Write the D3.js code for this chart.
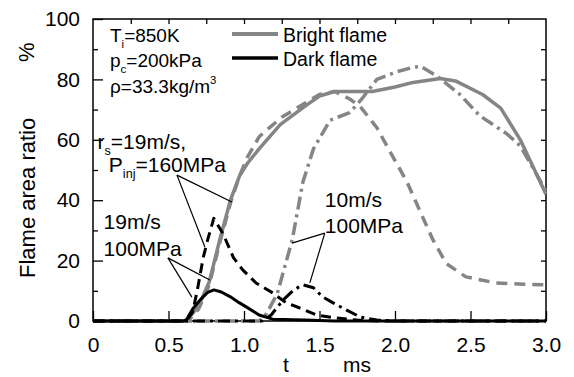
<!DOCTYPE html>
<html>
<head>
<meta charset="utf-8">
<script src="https://cdn.jsdelivr.net/npm/d3@7"></script>
<style>
  body { margin: 0; background: #fff; }
  svg { display: block; font-family: "Liberation Sans", Arial, sans-serif; }
</style>
</head>
<body>
<div id="chart"></div>
<script>
// time in ms, flame area ratio in %
const brightSolidT = [0, 0.6, 0.62, 0.7, 0.77, 0.84, 0.91, 0.97, 1.02, 1.1, 1.24, 1.4, 1.5, 1.6, 1.85, 2.0, 2.12, 2.3, 2.4, 2.58, 2.7, 2.83, 3.0];
const brightSolidV = [0, 0, 0, 5, 13, 27, 40, 48, 52, 57, 65, 71, 74.5, 76, 76, 77.5, 79, 80.3, 79.5, 75, 70.5, 60, 42];

const brightDashT = [0, 0.63, 0.7, 0.77, 0.84, 0.91, 0.97, 1.02, 1.1, 1.25, 1.4, 1.5, 1.6, 1.7, 1.77, 1.88, 1.99, 2.08, 2.16, 2.25, 2.34, 2.47, 2.67, 2.85, 3.0];
const brightDashV = [0, 0, 4, 12, 26, 39, 48, 54, 61, 67.5, 72, 75, 76, 73.5, 71, 64, 54, 46, 37, 27, 19, 14.6, 12.6, 12.2, 12];

const brightDotT = [0, 1.1, 1.15, 1.22, 1.32, 1.39, 1.46, 1.57, 1.7, 1.78, 1.88, 2.01, 2.12, 2.17, 2.28, 2.43, 2.56, 2.74, 2.83, 2.91, 3.0];
const brightDotV = [0, 0, 2.5, 9, 27, 46, 57, 66.5, 69, 73.5, 80, 82.5, 84, 84.3, 81, 75, 68, 62, 58, 51, 43];

const darkSolidT = [0, 0.6, 0.62, 0.66, 0.71, 0.76, 0.8, 0.85, 0.91, 0.97, 1.02, 1.1, 1.19, 1.4, 1.6, 3.0];
const darkSolidV = [0, 0, 0.5, 4, 7, 9.5, 10.3, 9.6, 8, 6, 4.5, 2, 0.6, 0.3, 0, 0];

const darkDashT = [0, 0.62, 0.66, 0.69, 0.73, 0.76, 0.8, 0.86, 0.93, 0.99, 1.08, 1.19, 1.28, 1.37, 1.48, 1.61, 1.75, 1.9, 3.0];
const darkDashV = [0, 0, 3, 10, 21, 27, 34, 29, 21, 17, 12.6, 9.3, 6, 4.3, 2, 1, 0.3, 0, 0];

const darkDotT = [0, 1.12, 1.18, 1.22, 1.26, 1.33, 1.39, 1.46, 1.52, 1.59, 1.68, 1.77, 1.88, 2.0, 3.0];
const darkDotV = [0, 0, 2, 4.5, 7, 10.3, 12, 11, 8, 6, 3.6, 1.3, 0.3, 0, 0];

const xTicks = [0, 0.5, 1.0, 1.5, 2.0, 2.5, 3.0];
const yTicks = [0, 20, 40, 60, 80, 100];

const width = 574, height = 377;
const margin = { top: 19, right: 28, bottom: 56, left: 93 };
const GRAY = '#858585';

const x = d3.scaleLinear().domain([0, 3]).range([margin.left, width - margin.right]);
const y = d3.scaleLinear().domain([0, 100]).range([height - margin.bottom, margin.top]);

const svg = d3.select('#chart').append('svg')
    .attr('width', width)
    .attr('height', height);

// axes
const bottom = svg.append('g')
    .attr('transform', `translate(0,${y(0)})`)
    .call(d3.axisBottom(x).tickValues(xTicks).tickSizeInner(-10).tickSizeOuter(0)
        .tickFormat(d => d === 0 ? '0' : d3.format('.1f')(d)));
bottom.selectAll('text').attr('y', 31).attr('dy', null).attr('font-size', 21).attr('fill', '#000');

const left = svg.append('g')
    .attr('transform', `translate(${x(0)},0)`)
    .call(d3.axisLeft(y).tickValues(yTicks).tickSizeInner(-10).tickSizeOuter(0).tickPadding(13));
left.selectAll('text').attr('font-size', 21).attr('fill', '#000');

svg.append('g')
    .attr('transform', `translate(${x(0)},0)`)
    .call(d3.axisLeft(y).tickValues(d3.range(10, 100, 20)).tickSizeInner(-5).tickSizeOuter(0).tickFormat(''));

svg.append('g')
    .attr('transform', `translate(0,${y(100)})`)
    .call(d3.axisTop(x).tickValues(d3.range(0.25, 3, 0.25)).tickSizeInner(-5).tickSizeOuter(0).tickFormat(''));

svg.append('g')
    .attr('transform', `translate(${x(3)},0)`)
    .call(d3.axisRight(y).tickValues(d3.range(10, 100, 10)).tickSizeInner(-5).tickSizeOuter(0).tickFormat(''));

svg.selectAll('.domain').remove();
svg.selectAll('.tick line').attr('stroke', '#000').attr('stroke-width', 1.3);

svg.append('rect')
    .attr('x', x(0)).attr('y', y(100))
    .attr('width', x(3) - x(0)).attr('height', y(0) - y(100))
    .attr('fill', 'none').attr('stroke', '#000').attr('stroke-width', 1.5);

// axis titles
svg.append('text').attr('x', 283).attr('y', 372).attr('font-size', 21).text('t');
svg.append('text').attr('x', 343).attr('y', 372).attr('font-size', 21).text('ms');
svg.append('text').attr('transform', 'translate(35,278) rotate(-90)').attr('font-size', 22).text('Flame area ratio');
svg.append('text').attr('transform', 'translate(34,62) rotate(-90)').attr('font-size', 22).text('%');

// curves
const line = d3.line().x(d => x(d[0])).y(d => y(d[1]));
const zip = (t, v) => t.map((d, i) => [d, v[i]]);

const series = [
    { t: brightDashT, v: brightDashV, color: GRAY, w: 3.5, dash: '11,7' },
    { t: brightDotT, v: brightDotV, color: GRAY, w: 3.5, dash: '13,5,3,5' },
    { t: brightSolidT, v: brightSolidV, color: GRAY, w: 3.5, dash: null },
    { t: darkDashT, v: darkDashV, color: '#000', w: 3, dash: '10,6' },
    { t: darkDotT, v: darkDotV, color: '#000', w: 3, dash: '12,5,3,5' },
    { t: darkSolidT, v: darkSolidV, color: '#000', w: 3, dash: null }
];

svg.append('g')
    .selectAll('path')
    .data(series)
    .join('path')
    .attr('d', d => line(zip(d.t, d.v)))
    .attr('fill', 'none')
    .attr('stroke', d => d.color)
    .attr('stroke-width', d => d.w)
    .attr('stroke-dasharray', d => d.dash)
    .attr('stroke-linejoin', 'round');

// legend
const legend = [
    { label: 'Bright flame', color: GRAY, w: 4, yy: 34 },
    { label: 'Dark flame', color: '#000', w: 3.5, yy: 58 }
];
legend.forEach(l => {
    svg.append('line').attr('x1', 232).attr('x2', 278).attr('y1', l.yy).attr('y2', l.yy)
        .attr('stroke', l.color).attr('stroke-width', l.w);
    svg.append('text').attr('x', 283).attr('y', l.yy + 8).attr('font-size', 19.5).text(l.label);
});

// text with sub/superscripts
function richText(px, py, size, parts) {
    const t = svg.append('text').attr('x', px).attr('y', py).attr('font-size', size);
    parts.forEach(p => {
        const s = t.append('tspan').text(p[0]);
        if (p[1] === 'sub') s.attr('font-size', size * 0.6).attr('dy', size * 0.3);
        if (p[1] === 'sup') s.attr('font-size', size * 0.6).attr('dy', -size * 0.45);
        if (p[1] === 'back') s.attr('dy', p[2]);
    });
    return t;
}

richText(110, 42, 19, [['T'], ['i', 'sub'], ['=850K', 'back', 19 * -0.3]]);
richText(110, 67, 19, [['p'], ['c', 'sub'], ['=200kPa', 'back', 19 * -0.3]]);
richText(110, 93, 19, [['\u03c1=33.3kg/m'], ['3', 'sup']]);

richText(x(0.03), y(57), 21, [['r'], ['s', 'sub'], ['=19m/s,', 'back', 21 * -0.3]]);
richText(x(0.105), y(49.3), 21, [['P'], ['inj', 'sub'], ['=160MPa', 'back', 21 * -0.3]]);
svg.append('text').attr('x', x(0.07)).attr('y', y(30.5)).attr('font-size', 21).text('19m/s');
svg.append('text').attr('x', x(0.07)).attr('y', y(21.5)).attr('font-size', 21).text('100MPa');
svg.append('text').attr('x', x(1.535)).attr('y', y(37.7)).attr('font-size', 21).text('10m/s');
svg.append('text').attr('x', x(1.535)).attr('y', y(29.1)).attr('font-size', 21).text('100MPa');

// leader lines
const leaders = [
    [[0.556, 48.3], [0.92, 39.4]],
    [[0.556, 48.3], [0.741, 24.5]],
    [[0.496, 20.9], [0.774, 13.6]],
    [[0.496, 20.9], [0.655, 7.9]],
    [[1.535, 29.1], [1.317, 25.8]],
    [[1.535, 29.1], [1.436, 12.6]]
];
svg.append('g')
    .selectAll('line')
    .data(leaders)
    .join('line')
    .attr('x1', d => x(d[0][0])).attr('y1', d => y(d[0][1]))
    .attr('x2', d => x(d[1][0])).attr('y2', d => y(d[1][1]))
    .attr('stroke', '#000').attr('stroke-width', 1.2);
</script>
</body>
</html>
